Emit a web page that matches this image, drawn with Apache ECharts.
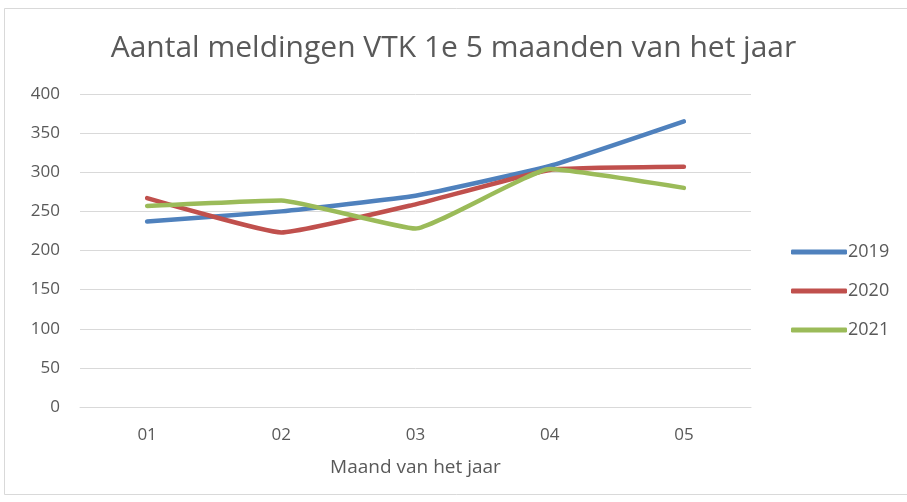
<!DOCTYPE html>
<html>
<head>
<meta charset="utf-8">
<script src="https://cdn.jsdelivr.net/npm/echarts@6/dist/echarts.min.js"></script>
<style>
html,body{margin:0;padding:0;background:#fff;}
#c{width:907px;height:502px;}
</style>
</head>
<body>
<div id="c"></div>
<script>
const categories = ['01', '02', '03', '04', '05'];
const seriesNames = ['2019', '2020', '2021'];
const values2019 = [237, 250, 270, 308, 365];
const values2020 = [267, 223, 259, 303, 307];
const values2021 = [257, 264, 228, 304, 280];
const yTicks = { min: 0, max: 400, interval: 50 };
const colors = ['#4F81BD', '#C0504D', '#9BBB59'];

const font = '"Open Sans", "Noto Sans", sans-serif';
const chart = echarts.init(document.getElementById('c'), null, { renderer: 'canvas' });
const data = [values2019, values2020, values2021];

chart.setOption({
  animation: false,
  backgroundColor: '#fff',
  graphic: [{
    type: 'rect',
    shape: { x: 4.5, y: 8.5, width: 910, height: 486 },
    style: { fill: 'none', stroke: '#d9d9d9', lineWidth: 1 },
    silent: true
  }],
  title: {
    text: 'Aantal meldingen VTK 1e 5 maanden van het jaar',
    left: 'center',
    top: 28,
    textStyle: { fontFamily: font, fontWeight: 'normal', fontSize: 30, color: '#595959' }
  },
  grid: { left: 80, right: 156, top: 94, bottom: 95 },
  legend: {
    orient: 'vertical',
    left: 786,
    top: 238,
    itemWidth: 56,
    itemHeight: 5,
    itemGap: 21,
    icon: 'roundRect',
    textStyle: { fontFamily: font, fontSize: 18, color: '#595959', padding: [0, 0, 0, -4] },
    data: seriesNames
  },
  xAxis: {
    type: 'category',
    data: categories,
    boundaryGap: true,
    name: 'Maand van het jaar',
    nameLocation: 'middle',
    nameGap: 51,
    nameTextStyle: { fontFamily: font, fontSize: 19, color: '#595959' },
    axisLine: { show: true, lineStyle: { color: '#d9d9d9', width: 1 } },
    axisTick: { show: false },
    axisLabel: { fontFamily: font, fontSize: 17, color: '#595959', margin: 20 }
  },
  yAxis: {
    type: 'value',
    min: yTicks.min,
    max: yTicks.max,
    interval: yTicks.interval,
    axisLine: { show: false },
    axisTick: { show: false },
    axisLabel: { fontFamily: font, fontSize: 17, color: '#595959', margin: 20 },
    splitLine: { lineStyle: { color: '#d9d9d9', width: 1 } }
  },
  series: seriesNames.map((n, i) => ({
    name: n,
    type: 'line',
    data: data[i],
    smooth: 0.12,
    showSymbol: false,
    symbol: 'none',
    color: colors[i],
    lineStyle: { color: colors[i], width: 4.5, cap: 'round', join: 'round' }
  }))
});
</script>
</body>
</html>
